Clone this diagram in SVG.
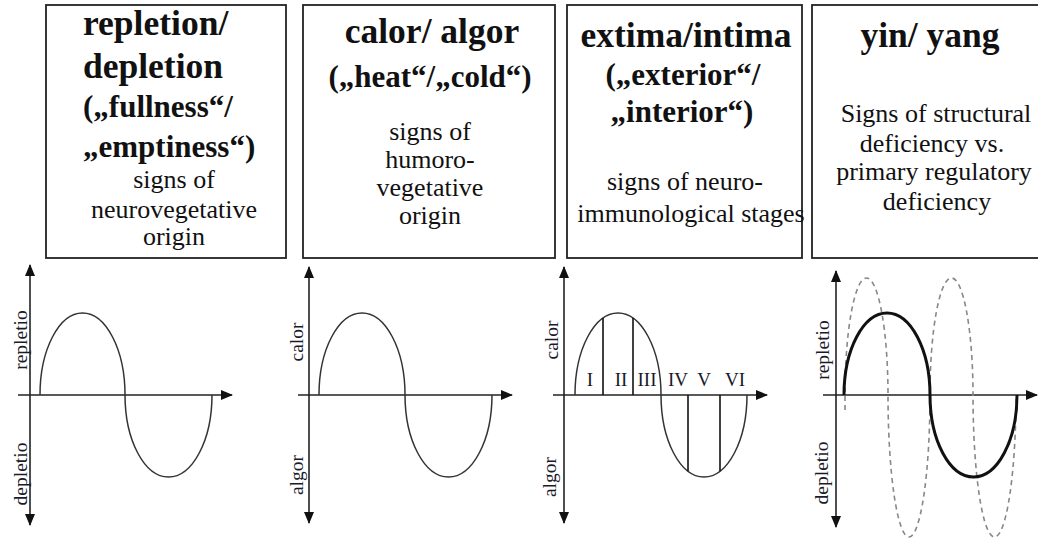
<svg xmlns="http://www.w3.org/2000/svg" width="1038" height="539" viewBox="0 0 1038 539">
<style>
.box{fill:#fff;stroke:#222;stroke-width:1.8}
.t{font-family:"Liberation Serif","Times New Roman",serif;fill:#111;text-anchor:middle}
.b1{font-size:35.5px;font-weight:bold}
.b2{font-size:31px;font-weight:bold}
.r{font-size:26px}
.lab{font-family:"Liberation Serif","Times New Roman",serif;fill:#1a1a2a;font-size:19.5px;text-anchor:middle}
.num{font-size:19px}
.axis{fill:none;stroke:#222;stroke-width:1.6;marker-start:url(#ah);marker-end:url(#ah)}
.curve{fill:none;stroke:#333;stroke-width:1.5}
.thick{fill:none;stroke:#111;stroke-width:3}
.dash{fill:none;stroke:#888;stroke-width:1.6;stroke-dasharray:5 4}
.stage{stroke:#111;stroke-width:1.6}
</style>
<defs>
<marker id="ah" markerUnits="userSpaceOnUse" markerWidth="12" markerHeight="10" refX="11" refY="5" orient="auto-start-reverse">
<path d="M0,0 L12,5 L0,10 z" fill="#111"/>
</marker>
</defs>
<rect width="1038" height="539" fill="#fff"/>

<g id="box1">
<rect class="box" x="46" y="5" width="240" height="253"/>
<text class="t b1" x="83" y="35" style="text-anchor:start">repletion/</text>
<text class="t b1" x="83" y="78" style="text-anchor:start">depletion</text>
<text class="t b2" x="83" y="117" style="text-anchor:start">(„fullness“/</text>
<text class="t b2" x="83" y="157" style="text-anchor:start">„emptiness“)</text>
<text class="t r" x="174" y="188">signs of</text>
<text class="t r" x="174" y="218">neurovegetative</text>
<text class="t r" x="174" y="245">origin</text>
</g>

<g id="box2">
<rect class="box" x="303" y="5" width="252" height="253"/>
<text class="t b1" x="432" y="43">calor/ algor</text>
<text class="t b2" x="430" y="87">(„heat“/„cold“)</text>
<text class="t r" x="430" y="140">signs of</text>
<text class="t r" x="430" y="168">humoro-</text>
<text class="t r" x="430" y="196">vegetative</text>
<text class="t r" x="430" y="224">origin</text>
</g>

<g id="box3">
<rect class="box" x="567" y="5" width="235" height="253"/>
<text class="t b1" x="686" y="47">extima/intima</text>
<text class="t b2" x="683" y="85">(„exterior“/</text>
<text class="t b2" x="682" y="122">„interior“)</text>
<text class="t r" x="685" y="190">signs of neuro-</text>
<text class="t r" x="691" y="222">immunological stages</text>
</g>

<g id="box4">
<rect class="box" x="812" y="5" width="240" height="253"/>
<text class="t b1" x="930" y="47">yin/ yang</text>
<text class="t r" x="936" y="122">Signs of structural</text>
<text class="t r" x="932" y="152">deficiency vs.</text>
<text class="t r" x="934" y="180">primary regulatory</text>
<text class="t r" x="937" y="210">deficiency</text>
</g>

<g id="chart1">
<line class="axis" x1="30" y1="525" x2="30" y2="265"/>
<line class="axis" x1="18" y1="395" x2="232" y2="395" style="marker-start:none"/>
<path class="curve" d="M40,395 A42.5,82 0 0 1 125,395 A43.5,82 0 0 0 212,395"/>
<text class="lab" transform="translate(27,340) rotate(-90)">repletio</text>
<text class="lab" transform="translate(27,474) rotate(-90)">depletio</text>
</g>

<g id="chart2">
<line class="axis" x1="309" y1="523" x2="309" y2="267"/>
<line class="axis" x1="298" y1="395" x2="512" y2="395" style="marker-start:none"/>
<path class="curve" d="M319,395 A43,82 0 0 1 405,395 A43.5,82 0 0 0 492,395"/>
<text class="lab" transform="translate(303,342) rotate(-90)">calor</text>
<text class="lab" transform="translate(303,475) rotate(-90)">algor</text>
</g>

<g id="chart3">
<line class="axis" x1="564" y1="523" x2="564" y2="267"/>
<line class="axis" x1="553" y1="395" x2="767" y2="395" style="marker-start:none"/>
<path class="curve" d="M575,395 A43,82 0 0 1 661,395 A43,82 0 0 0 747,395"/>
<line class="stage" x1="603" y1="395" x2="603" y2="318"/>
<line class="stage" x1="633" y1="395" x2="633" y2="318"/>
<line class="stage" x1="688" y1="395" x2="688" y2="471"/>
<line class="stage" x1="720" y1="395" x2="720" y2="471"/>
<text class="lab num" x="590" y="386">I</text>
<text class="lab num" x="621" y="386">II</text>
<text class="lab num" x="647" y="386">III</text>
<text class="lab num" x="678" y="386">IV</text>
<text class="lab num" x="704" y="386">V</text>
<text class="lab num" x="735" y="386">VI</text>
<text class="lab" transform="translate(558,340) rotate(-90)">calor</text>
<text class="lab" transform="translate(556,477) rotate(-90)">algor</text>
</g>

<g id="chart4">
<line class="axis" x1="836" y1="527" x2="836" y2="271"/>
<line class="axis" x1="823" y1="395" x2="1037" y2="395" style="marker-start:none"/>
<path class="dash" d="M845,410 L845,395 A21.5,117 0 0 1 888,395 A21,142 0 0 0 930,395 A21.5,117 0 0 1 973,395 A21.5,142 0 0 0 1016,395"/>
<path class="thick" d="M844,395 A43,82 0 0 1 930,395 A43.5,82 0 0 0 1017,395"/>
<text class="lab" transform="translate(829,350) rotate(-90)">repletio</text>
<text class="lab" transform="translate(828,473) rotate(-90)">depletio</text>
</g>
</svg>
